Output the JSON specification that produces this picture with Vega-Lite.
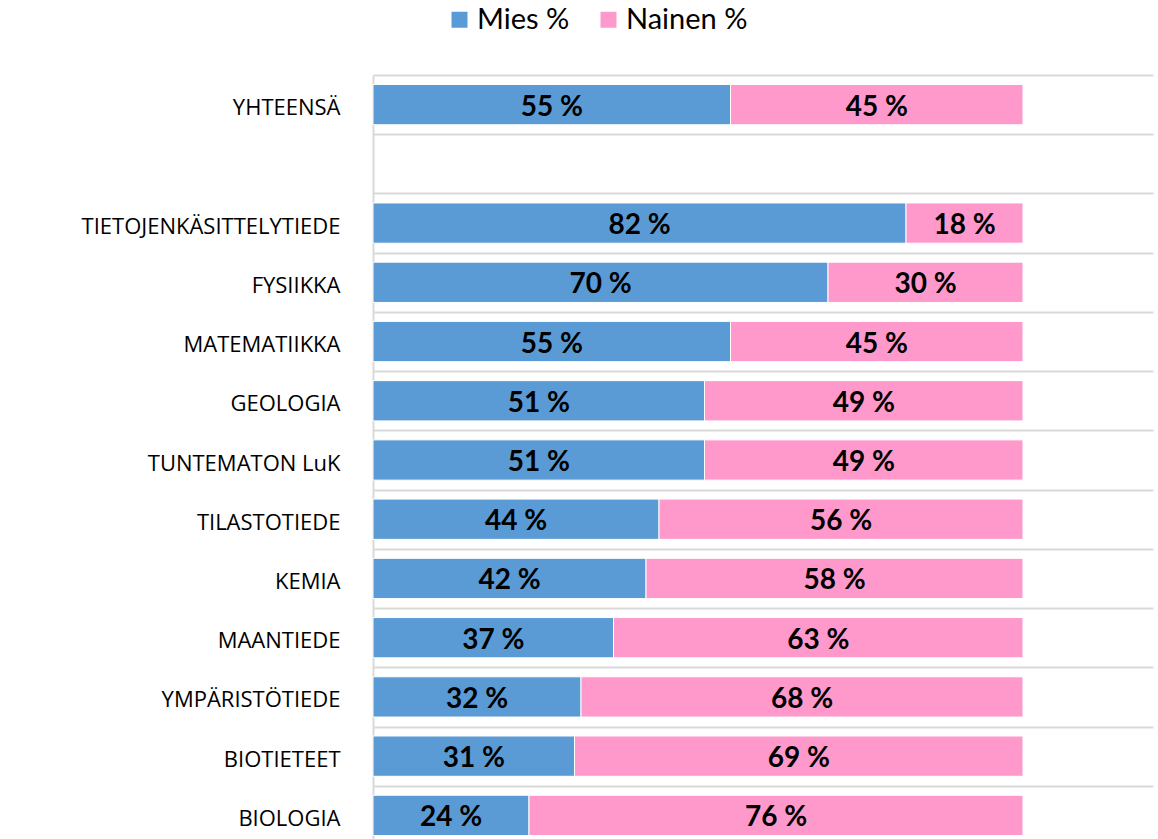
{
  "$schema": "https://vega.github.io/schema/vega-lite/v6.json",
  "width": 780,
  "height": 770,
  "autosize": {"type": "none"},
  "padding": {"left": 373, "top": 75, "right": 5, "bottom": 0},
  "background": "white",
  "config": {"view": {"stroke": null}},
  "data": {
    "values": [
      {"cat": "Yhteensä", "sex": "Mies %", "v": 55},
      {"cat": "Yhteensä", "sex": "Nainen %", "v": 45},
      {"cat": "Tietojenkäsittelytiede", "sex": "Mies %", "v": 82},
      {"cat": "Tietojenkäsittelytiede", "sex": "Nainen %", "v": 18},
      {"cat": "Fysiikka", "sex": "Mies %", "v": 70},
      {"cat": "Fysiikka", "sex": "Nainen %", "v": 30},
      {"cat": "Matematiikka", "sex": "Mies %", "v": 55},
      {"cat": "Matematiikka", "sex": "Nainen %", "v": 45},
      {"cat": "Geologia", "sex": "Mies %", "v": 51},
      {"cat": "Geologia", "sex": "Nainen %", "v": 49},
      {"cat": "Tuntematon LuK", "sex": "Mies %", "v": 51},
      {"cat": "Tuntematon LuK", "sex": "Nainen %", "v": 49},
      {"cat": "Tilastotiede", "sex": "Mies %", "v": 44},
      {"cat": "Tilastotiede", "sex": "Nainen %", "v": 56},
      {"cat": "Kemia", "sex": "Mies %", "v": 42},
      {"cat": "Kemia", "sex": "Nainen %", "v": 58},
      {"cat": "Maantiede", "sex": "Mies %", "v": 37},
      {"cat": "Maantiede", "sex": "Nainen %", "v": 63},
      {"cat": "Ympäristötiede", "sex": "Mies %", "v": 32},
      {"cat": "Ympäristötiede", "sex": "Nainen %", "v": 68},
      {"cat": "Biotieteet", "sex": "Mies %", "v": 31},
      {"cat": "Biotieteet", "sex": "Nainen %", "v": 69},
      {"cat": "Biologia", "sex": "Mies %", "v": 24},
      {"cat": "Biologia", "sex": "Nainen %", "v": 76}
    ]
  },
  "transform": [
    {"stack": "v", "groupby": ["cat"], "as": ["v0", "v1"], "sort": [{"field": "sex", "order": "ascending"}]},
    {"calculate": "(datum.v0 + datum.v1) / 2", "as": "mid"},
    {"calculate": "datum.v + ' %'", "as": "lab"}
  ],
  "encoding": {
    "y": {
      "field": "cat",
      "type": "nominal",
      "scale": {
        "domain": ["Yhteensä", " ", "Tietojenkäsittelytiede", "Fysiikka", "Matematiikka", "Geologia", "Tuntematon LuK", "Tilastotiede", "Kemia", "Maantiede", "Ympäristötiede", "Biotieteet", "Biologia"],
        "paddingInner": 0,
        "paddingOuter": 0
      },
      "axis": {
        "title": null,
        "ticks": false,
        "domain": true,
        "domainColor": "#d9d9d9",
        "domainWidth": 2,
        "grid": true,
        "gridColor": "#d9d9d9",
        "gridWidth": 2,
        "tickBand": "extent",
        "labelFont": "Open Sans",
        "labelFontSize": 22,
        "labelColor": "#000000",
        "labelPadding": 33,
        "labelOffset": 3,
        "labelLimit": 400,
        "labelExpr": "datum.label == 'Tuntematon LuK' ? 'TUNTEMATON LuK' : upper(datum.label)"
      }
    }
  },
  "layer": [
    {
      "mark": {"type": "bar", "height": {"band": 0.68}, "stroke": "white", "strokeWidth": 1},
      "encoding": {
        "x": {"field": "v0", "type": "quantitative", "scale": {"domain": [0, 120], "nice": false}, "axis": null},
        "x2": {"field": "v1"},
        "color": {
          "field": "sex",
          "type": "nominal",
          "scale": {"domain": ["Mies %", "Nainen %"], "range": ["#5B9BD5", "#FF99CC"]},
          "legend": {
            "orient": "none",
            "legendX": 72,
            "legendY": -70,
            "direction": "horizontal",
            "title": null,
            "symbolType": "square",
            "symbolSize": 256,
            "symbolStrokeWidth": 0,
            "labelFont": "Lato",
            "labelFontSize": 29,
            "labelColor": "#000000",
            "labelOffset": 3,
            "columnPadding": 24,
            "labelLimit": 300
          }
        }
      }
    },
    {
      "mark": {"type": "text", "font": "Lato", "fontWeight": "bold", "fontSize": 28, "color": "#000000", "dy": 3},
      "encoding": {
        "x": {"field": "mid", "type": "quantitative"},
        "text": {"field": "lab"}
      }
    }
  ]
}
